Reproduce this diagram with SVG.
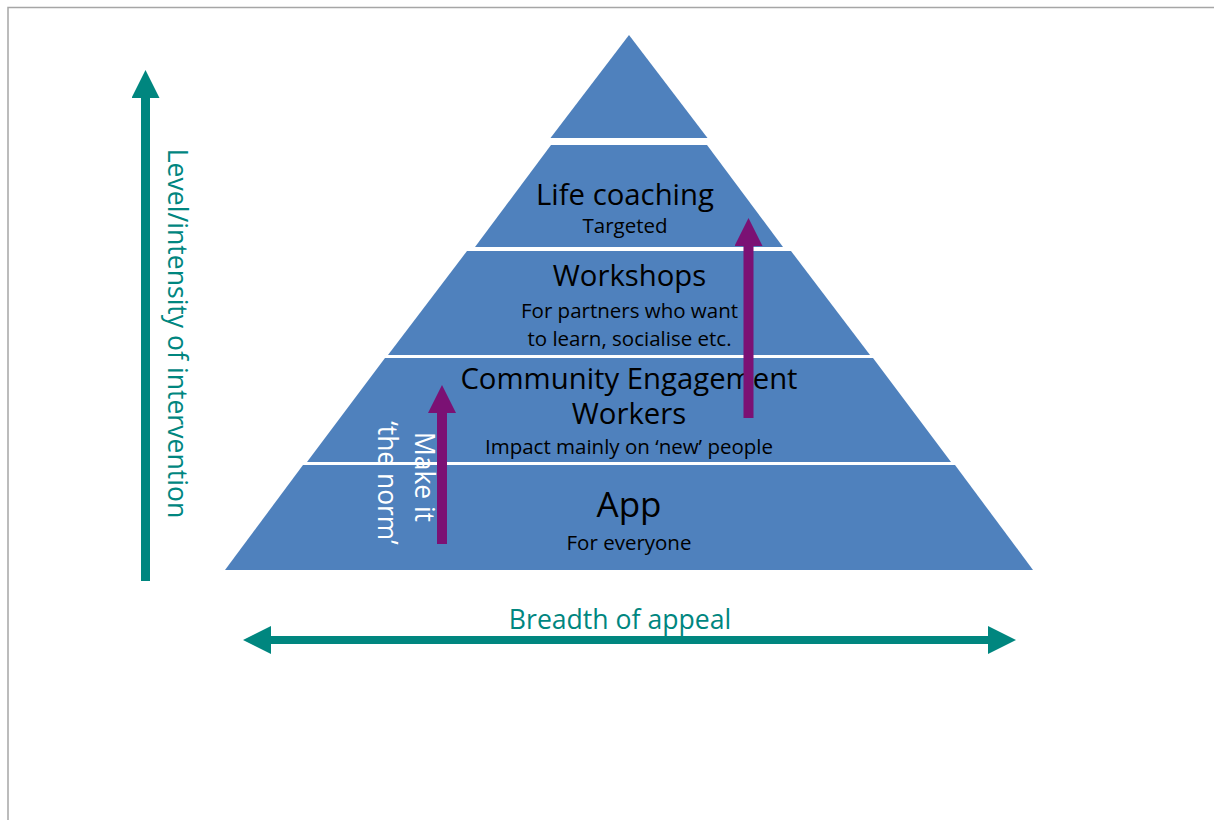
<svg xmlns="http://www.w3.org/2000/svg" width="1214" height="820" viewBox="0 0 1214 820">
<style>
.slice{fill:#4F81BD;}
.t{font-family:"Open Sans","Liberation Sans",sans-serif;fill:#000;text-anchor:middle;}
.big{font-size:29.3px;}
.small{font-size:20.5px;}
.teal{font-family:"Open Sans","Liberation Sans",sans-serif;fill:#00867F;font-size:26.6px;text-anchor:middle;}
.white{font-family:"Open Sans","Liberation Sans",sans-serif;fill:#FFFFFF;font-size:26.4px;text-anchor:middle;}
.tealLine{stroke:#00867F;fill:none;}
.purpLine{stroke:#7B1174;fill:none;stroke-width:10;}
</style>
<defs>
<marker id="tealHead" markerUnits="userSpaceOnUse" markerWidth="28" markerHeight="28" refX="0" refY="14" orient="auto-start-reverse" viewBox="0 0 28 28">
<path d="M0,0 L28,14 L0,28 Z" fill="#00867F"/>
</marker>
<marker id="purpHead" markerUnits="userSpaceOnUse" markerWidth="28" markerHeight="28" refX="0" refY="14" orient="auto" viewBox="0 0 28 28">
<path d="M0,0 L28,14 L0,28 Z" fill="#7B1174"/>
</marker>
</defs>
<rect width="1214" height="820" fill="#FFFFFF"/>
<path d="M8,820 L8,7.5 L1214,7.5" fill="none" stroke="#A6A6A6" stroke-width="1.5"/>

<g id="apex">
<polygon class="slice" points="629,35 707.5,138 550.5,138"/>
</g>
<g id="life-coaching">
<polygon class="slice" points="551,145 707,145 783,247 475,247"/>
<text class="t big" x="625" y="205">Life coaching</text>
<text class="t small" x="625" y="233">Targeted</text>
</g>
<g id="workshops">
<polygon class="slice" points="467,251 791,251 870,355 388,355"/>
<text class="t big" x="629.5" y="286">Workshops</text>
<text class="t small" x="629.5" y="318">For partners who want</text>
<text class="t small" x="629.5" y="346">to learn, socialise etc.</text>
</g>
<g id="community">
<polygon class="slice" points="385,358 873,358 951,462 307,462"/>
<text class="t big" x="629" y="389">Community Engagement</text>
<text class="t big" x="629" y="424">Workers</text>
<text class="t small" x="629" y="454">Impact mainly on ‘new’ people</text>
</g>
<g id="app">
<polygon class="slice" points="303,465 955,465 1033,570 225,570"/>
<text class="t" x="629" y="517" font-size="35">App</text>
<text class="t small" x="629" y="550">For everyone</text>
</g>

<g id="connectors">
<line class="tealLine" x1="145.5" y1="581" x2="145.5" y2="98" stroke-width="9" marker-end="url(#tealHead)"/>
<line class="tealLine" x1="271" y1="640" x2="988" y2="640" stroke-width="8" marker-start="url(#tealHead)" marker-end="url(#tealHead)"/>
<line class="purpLine" x1="442" y1="544" x2="442" y2="413" marker-end="url(#purpHead)"/>
<line class="purpLine" x1="748.5" y1="418" x2="748.5" y2="246" marker-end="url(#purpHead)"/>
</g>

<g id="labels">
<text class="teal" transform="translate(168,333.5) rotate(90)">Level/intensity of intervention</text>
<text class="teal" x="620" y="629">Breadth of appeal</text>
<text class="white" transform="translate(415,477) rotate(90)">Make it</text>
<text class="white" transform="translate(378,483) rotate(90)">‘the norm’</text>
</g>
</svg>
